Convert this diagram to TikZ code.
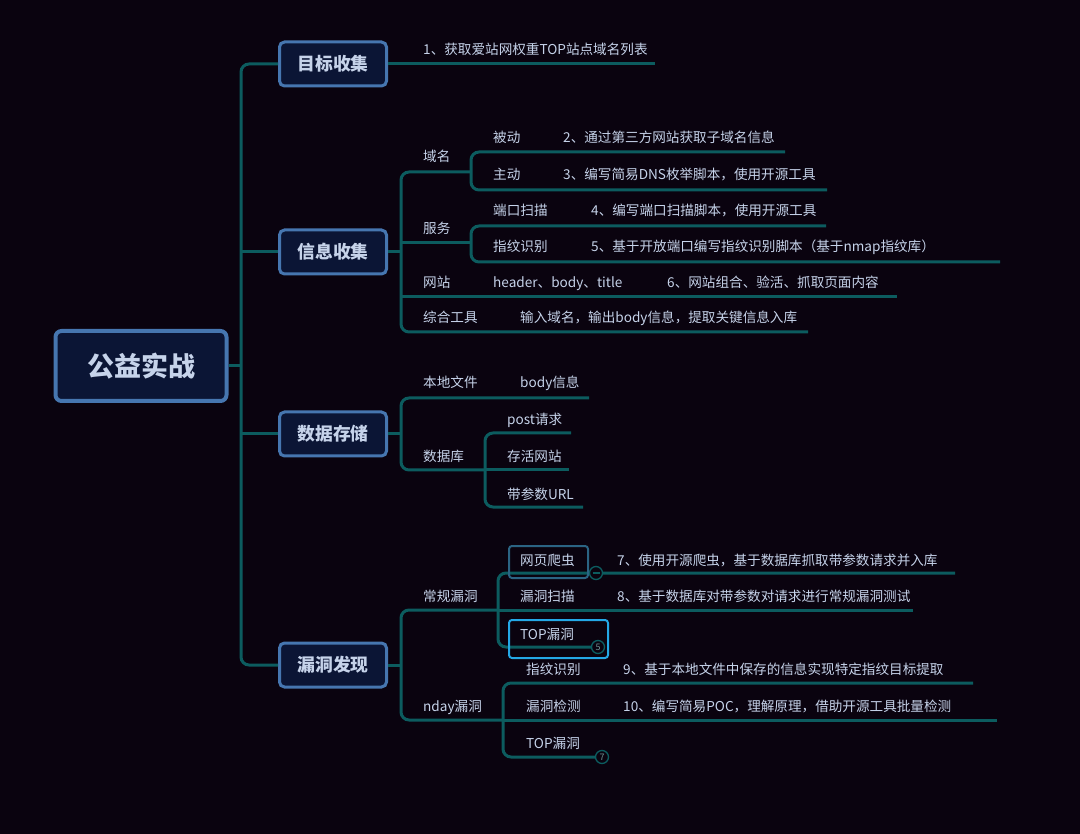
\documentclass[tikz,border=0pt]{standalone}
\usepackage{fontspec}
\setmainfont{Noto Sans CJK SC}
\usepackage{tikz}

\definecolor{bgcol}{HTML}{0A030F}
\definecolor{linecol}{HTML}{0C5C5F}
\definecolor{boxfill}{HTML}{0B1535}
\definecolor{boxline}{HTML}{4676B0}
\definecolor{txtcol}{HTML}{C6D3EA}
\definecolor{foldtxt}{HTML}{6F9193}
\definecolor{hovercol}{HTML}{2B6483}
\definecolor{selcol}{HTML}{24A8E6}

\begin{document}
\begin{tikzpicture}[
    x=1pt, y=-1pt,
    branch/.style={draw=linecol, line width=3pt, rounded corners=8pt},
    topic/.style={draw=boxline, fill=boxfill, line width=3pt, rounded corners=5pt,
      minimum width=107pt, minimum height=44pt, text=txtcol,
      font=\fontsize{17.8}{20}\selectfont\bfseries},
    leaf/.style={anchor=base west, inner sep=0pt, text=txtcol,
      font=\fontsize{13.6}{15}\selectfont},
    fold/.style={circle, draw=linecol, fill=bgcol, line width=1.3pt,
      minimum size=13pt, inner sep=0pt, text=foldtxt,
      font=\fontsize{9}{10}\selectfont},
    hoverbox/.style={draw=hovercol, line width=2pt, rounded corners=3pt},
    selbox/.style={draw=selcol, line width=2pt, rounded corners=3pt}
  ]
  \fill[bgcol] (0,0) rectangle (1080,834);
  \useasboundingbox (0,0) rectangle (1080,834);

  % Root and main topics
  \node[draw=boxline, fill=boxfill, line width=4pt, rounded corners=6pt,
    minimum width=171pt, minimum height=70pt, text=txtcol,
    font=\fontsize{27}{30}\selectfont\bfseries] (root) at (141,366) {公益实战};
  \node[topic] (goal)  at (333,64)  {目标收集};
  \node[topic] (info)  at (333,252) {信息收集};
  \node[topic] (store) at (333,434) {数据存储};
  \node[topic] (vuln)  at (333,665) {漏洞发现};

  % Trunk
  \coordinate (trunk) at (241,366);
  \draw[branch] (root.east) -- (trunk);
  \draw[branch] (goal.west) -| (trunk) |- (vuln.west);
  \draw[branch] (info.west) -- (info.west -| trunk);
  \draw[branch] (store.west) -- (store.west -| trunk);

  % Goal collection
  \coordinate (goalE) at (655,64);
  \draw[branch] (goal.east) -- (goalE);
  \node[leaf] (t1) at (423,55) {1、获取爱站网权重TOP站点域名列表};

  % Information collection
  \coordinate (infoJ) at (401,252);
  \coordinate (domJ)  at (471,172);
  \coordinate (svcJ)  at (471,243);
  \coordinate (webE)  at (897,297);
  \coordinate (toolE) at (808,332);
  \coordinate (pasE)  at (785,152);
  \coordinate (actE)  at (827,190);
  \coordinate (portE) at (826,226);
  \coordinate (fpE)   at (1000,262);
  \draw[branch] (info.east) -- (infoJ);
  \draw[branch] (domJ) -| (infoJ) |- (toolE);
  \draw[branch] (infoJ |- svcJ) -- (svcJ);
  \draw[branch] (infoJ |- webE) -- (webE);
  \draw[branch] (pasE) -| (domJ) |- (actE);
  \draw[branch] (portE) -| (svcJ) |- (fpE);

  \node[leaf] (dom)   at (423,162) {域名};
  \node[leaf] (pas)   at (493,143) {被动};
  \node[leaf] (t2)    at (563,143) {2、通过第三方网站获取子域名信息};
  \node[leaf] (act)   at (493,180) {主动};
  \node[leaf] (t3)    at (563,180) {3、编写简易DNS枚举脚本，使用开源工具};
  \node[leaf] (svc)   at (423,234) {服务};
  \node[leaf] (port)  at (493,216) {端口扫描};
  \node[leaf] (t4)    at (591,216) {4、编写端口扫描脚本，使用开源工具};
  \node[leaf] (fp)    at (493,252) {指纹识别};
  \node[leaf] (t5)    at (591,252) {5、基于开放端口编写指纹识别脚本（基于nmap指纹库）};
  \node[leaf] (web)   at (423,288) {网站};
  \node[leaf] (hbt)   at (493,288) {header、body、title};
  \node[leaf] (t6)    at (667,288) {6、网站组合、验活、抓取页面内容};
  \node[leaf] (tool)  at (423,323) {综合工具};
  \node[leaf] (tin)   at (520,323) {输入域名，输出body信息，提取关键信息入库};

  % Data storage
  \coordinate (storeJ) at (401,434);
  \coordinate (localE) at (589,398);
  \coordinate (dbJ)    at (485,470);
  \coordinate (postE)  at (571,433);
  \coordinate (aliveE) at (569,470);
  \coordinate (urlE)   at (583,507);
  \draw[branch] (store.east) -- (storeJ);
  \draw[branch] (localE) -| (storeJ) |- (dbJ);
  \draw[branch] (postE) -| (dbJ) |- (urlE);
  \draw[branch] (dbJ) -- (aliveE);

  \node[leaf] (local) at (423,388) {本地文件};
  \node[leaf] (body)  at (520,388) {body信息};
  \node[leaf] (db)    at (423,461) {数据库};
  \node[leaf] (post)  at (507,425) {post请求};
  \node[leaf] (alive) at (507,461) {存活网站};
  \node[leaf] (url)   at (507,499) {带参数URL};

  % Vulnerability discovery
  \node[fold] (fold5) at (598,647) {5};
  \node[fold] (fold7) at (602,757) {7};
  \coordinate (vulnJ)  at (401,665);
  \coordinate (normJ)  at (498,610);
  \coordinate (ndayJ)  at (503,720);
  \coordinate (scanE)  at (913,610);
  \coordinate (checkE) at (997,720);
  \coordinate (crawlE) at (955,573);
  \coordinate (fp2E)   at (973,683);
  \draw[branch] (vuln.east) -- (vulnJ);
  \draw[branch] (normJ) -| (vulnJ) |- (ndayJ);
  \draw[branch] (normJ) -- (scanE);
  \draw[branch] (ndayJ) -- (checkE);
  \draw[branch] (crawlE) -| (normJ) |- (fold5.west);
  \draw[branch] (fp2E) -| (ndayJ) |- (fold7.west);

  \node[fold] (collapse) at (596,573) {};
  \draw[linecol, line width=1.2pt] ([xshift=-3.5pt]collapse.center) -- ([xshift=3.5pt]collapse.center);
  \draw[hoverbox] (509,546) rectangle (588,578);
  \draw[selbox] (509,620) rectangle (608,658);

  \node[leaf] (norm)  at (423,601) {常规漏洞};
  \node[leaf] (crawl) at (520,565) {网页爬虫};
  \node[leaf] (t7)    at (617,565) {7、使用开源爬虫，基于数据库抓取带参数请求并入库};
  \node[leaf] (scan)  at (520,601) {漏洞扫描};
  \node[leaf] (t8)    at (617,601) {8、基于数据库对带参数对请求进行常规漏洞测试};
  \node[leaf] (top1)  at (520,639) {TOP漏洞};
  \node[leaf] (nday)  at (423,711) {nday漏洞};
  \node[leaf] (fp2)   at (526,674) {指纹识别};
  \node[leaf] (t9)    at (623,674) {9、基于本地文件中保存的信息实现特定指纹目标提取};
  \node[leaf] (check) at (526,711) {漏洞检测};
  \node[leaf] (t10)   at (623,711) {10、编写简易POC，理解原理，借助开源工具批量检测};
  \node[leaf] (top2)  at (526,748) {TOP漏洞};
\end{tikzpicture}
\end{document}
